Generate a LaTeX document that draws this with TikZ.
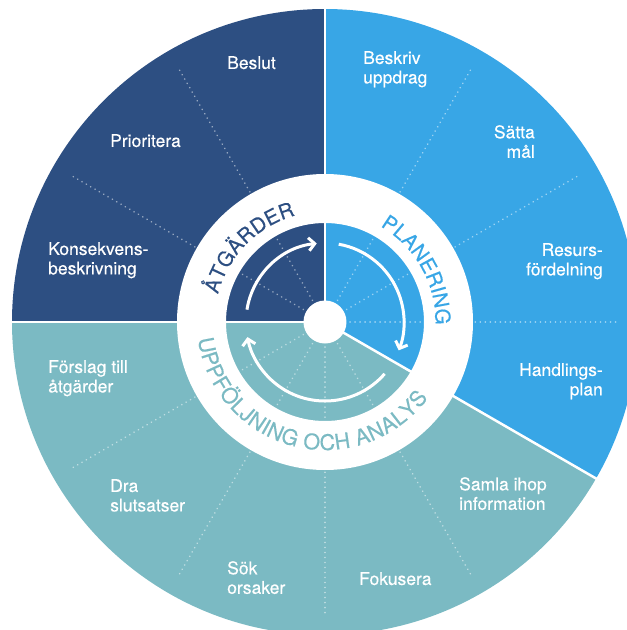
\documentclass[tikz,border=0pt]{standalone}
\usepackage{fontspec}
\setmainfont{TeX Gyre Heros}
\newfontfamily\lblfont[FakeBold=0.35]{TeX Gyre Heros}
\newfontfamily\ringfont[FakeBold=0.3]{TeX Gyre Heros}
\usetikzlibrary{decorations.text,arrows.meta}
\definecolor{darkb}{RGB}{45,79,130}
\definecolor{lightb}{RGB}{56,166,230}
\definecolor{tealc}{RGB}{123,186,195}
\begin{document}
\begin{tikzpicture}[x=1pt,y=1pt,
  lbl/.style={text=white, font=\lblfont\fontsize{17.5}{19.5}\selectfont, inner sep=0pt},
  lbll/.style={lbl, align=left, anchor=north west},
  lblr/.style={lbl, align=right, anchor=north east},
  dotline/.style={white, opacity=0.5, line width=1.8pt, line cap=round, dash pattern=on 0.01pt off 5pt},
  seprule/.style={white, line width=2.5pt},
  cyc/.style={white, line width=3pt, -{Straight Barb[length=6pt,width=13pt]}},
]
\useasboundingbox (-325,-308) rectangle (302,322);
\clip (-325,-308) rectangle (302,322);
\coordinate (c) at (0,0);
% sectors
\fill[darkb] (c) -- (90:313) arc[start angle=90, end angle=180, radius=313] -- cycle;
\fill[lightb] (c) -- (-30:313) arc[start angle=-30, end angle=90, radius=313] -- cycle;
\fill[tealc] (c) -- (180:313) arc[start angle=180, end angle=330, radius=313] -- cycle;
% dotted dividers
\foreach \a in {120,150,60,30,0,210,240,270,300}
  \draw[dotline] (c) -- (\a:295);
% white separators
\foreach \a in {90,180,-30}
  \draw[seprule] (c) -- (\a:315);
% white ring and hub
\fill[white, even odd rule] (c) circle[radius=148] (c) circle[radius=99];
\fill[white] (c) circle[radius=21.5];
% cycle arrows
\draw[cyc] (171:79) arc[start angle=171, end angle=96, radius=79];
\draw[cyc] (80:79) arc[start angle=80, end angle=-21, radius=79];
\draw[cyc] (-41:79) arc[start angle=-41, end angle=-169, radius=79];
% ring texts
\path[decorate, decoration={text along path, text align={fit to path}, text color=darkb,
  text={|\ringfont\fontsize{20.5}{20.5}\selectfont|ÅTGÄRDER}}]
  (165.5:110.5) arc[start angle=165.5, end angle=105.5, radius=110.5];
\path[decorate, decoration={text along path, text align={fit to path}, text color=lightb,
  text={|\ringfont\fontsize{20.5}{20.5}\selectfont|PLANERING}}]
  (60:110.5) arc[start angle=60, end angle=-1.5, radius=110.5];
\path[decorate, decoration={text along path, text align={fit to path}, text color=tealc,
  text={|\ringfont\fontsize{21.5}{21.5}\selectfont|UPPFÖLJNING OCH ANALYS}}]
  (187.6:128) arc[start angle=187.6, end angle=323.7, radius=128];
% labels
\node[lbll] (beslut) at (-98,266) {Beslut};
\node[lbll] (prio) at (-215,188) {Prioritera};
\node[lbll] (kons) at (-277,80) {Konsekvens-\\beskrivning};
\node[lbll] (beskriv) at (38,271) {Beskriv\\uppdrag};
\node[lblr] (satta) at (210,197) {Sätta\\mål};
\node[lblr] (resurs) at (278,79) {Resurs-\\fördelning};
\node[lblr] (handl) at (278,-41) {Handlings-\\plan};
\node[lbll] (forslag) at (-277,-38) {Förslag till\\åtgärder};
\node[lbll] (dra) at (-215,-157) {Dra\\slutsatser};
\node[lbll] (sok) at (-98,-239) {Sök\\orsaker};
\node[lbll] (fokus) at (34,-250) {Fokusera};
\node[lbll] (samla) at (134,-155) {Samla ihop\\information};
\end{tikzpicture}
\end{document}
